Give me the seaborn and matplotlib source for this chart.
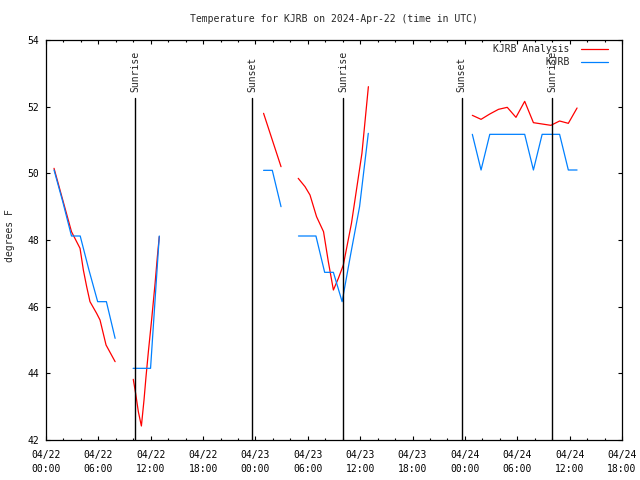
import numpy as np
import pandas as pd
import matplotlib
matplotlib.use("Agg")
import matplotlib.pyplot as plt
import matplotlib.dates as mdates
from matplotlib.lines import Line2D
import seaborn as sns

# data: hours after 2024-04-22 00:00 UTC, temperature in F
ana_hours = [0.92, 1.92, 2.92, 3.9, 4.28, 4.66, 5.04, 5.8, 6.19, 6.88, 7.92,
             10.0, 10.27, 10.58, 10.93, 11.23, 11.46, 11.73, 12.1, 12.5, 12.76, 12.98,
             24.93, 25.93, 26.93,
             28.9, 29.68, 30.25, 31.0, 31.8, 32.35, 32.93, 33.5, 34.07, 35.0, 36.2, 36.94,
             48.85, 49.85, 50.85, 51.85, 52.85, 53.85, 54.85, 55.85, 56.85, 57.85, 58.85, 59.85, 60.85]
ana_temp = [50.15, 49.2, 48.25, 47.75, 47.1, 46.6, 46.15, 45.8, 45.6, 44.85, 44.35,
            43.82, 43.4, 42.85, 42.42, 43.2, 43.9, 44.65, 45.6, 46.7, 47.5, 48.1,
            51.8, 51.0, 50.2,
            49.85, 49.6, 49.35, 48.7, 48.25, 47.35, 46.5, 46.85, 47.25, 48.5, 50.6, 52.6,
            51.74, 51.62, 51.78, 51.92, 51.98, 51.68, 52.16, 51.52, 51.48, 51.44, 51.57, 51.5, 51.96]

obs_hours = [0.92, 1.92, 2.92, 3.92, 4.92, 5.92, 6.92, 7.92,
             9.98, 10.98, 11.98, 12.98,
             24.93, 25.93, 26.93,
             28.93, 29.93, 30.93, 31.93, 32.93, 33.93, 34.93, 35.93, 36.93,
             48.85, 49.85, 50.85, 51.85, 52.85, 53.85, 54.85, 55.85, 56.85, 57.85, 58.85, 59.85, 60.85]
obs_temp = [50.1, 49.15, 48.12, 48.12, 47.1, 46.15, 46.15, 45.05,
            44.15, 44.15, 44.15, 48.12,
            50.09, 50.09, 49.0,
            48.12, 48.12, 48.12, 47.03, 47.03, 46.15, 47.6, 49.0, 51.2,
            51.17, 50.1, 51.17, 51.17, 51.17, 51.17, 51.17, 50.1, 51.17, 51.17, 51.17, 50.1, 50.1]

event_hours = [10.22, 23.64, 34.07, 47.63, 58.02]
event_names = ["Sunrise", "Sunset", "Sunrise", "Sunset", "Sunrise"]

base = pd.Timestamp("2024-04-22 00:00")


def make_frame(hours, temps):
    df = pd.DataFrame({"hours": hours, "temp": temps})
    df["time"] = base + pd.to_timedelta(df["hours"], unit="h")
    # break the line where data is missing
    df["seg"] = (df["hours"].diff() > 1.5).cumsum()
    return df


ana = make_frame(ana_hours, ana_temp)
obs = make_frame(obs_hours, obs_temp)

sns.set_style("ticks")
plt.rcParams["font.family"] = ["DejaVu Sans Mono"]
plt.rcParams["font.size"] = 7

fig = plt.figure(figsize=(6.4, 4.8), dpi=100)
ax = fig.add_axes([46 / 640, 40 / 480, 576 / 640, 400 / 480])

red = "#ff0000"
blue = "#0080ff"
sns.lineplot(data=ana, x="time", y="temp", units="seg", estimator=None,
             color=red, lw=0.9, ax=ax, legend=False)
sns.lineplot(data=obs, x="time", y="temp", units="seg", estimator=None,
             color=blue, lw=0.9, ax=ax, legend=False)

ax.set_ylim(42, 54)
ax.set_xlim(base, base + pd.Timedelta(hours=66))

for h, name in zip(event_hours, event_names):
    t = base + pd.Timedelta(hours=h)
    ax.axvline(t, ymin=0, ymax=0.855, color="black", lw=1.0)
    ax.text(t, 52.44, name, rotation=90, ha="center", va="bottom", fontsize=7)

ax.xaxis.set_major_locator(mdates.HourLocator(byhour=[0, 6, 12, 18]))
ax.xaxis.set_minor_locator(mdates.HourLocator(byhour=range(0, 24, 2)))
ax.xaxis.set_major_formatter(mdates.DateFormatter("%m/%d\n%H:%M"))
ax.set_yticks(np.arange(42, 55, 2))

ax.tick_params(which="both", direction="in", top=True, right=True, width=0.8,
               colors="black", labelsize=7)
ax.tick_params(which="major", length=3.2)
ax.tick_params(which="minor", length=1.7)
ax.tick_params(axis="x", pad=7)
ax.tick_params(axis="y", pad=5)
for lbl in ax.get_xticklabels():
    lbl.set_linespacing(1.5)

for s in ax.spines.values():
    s.set_color("black")
    s.set_linewidth(0.9)

ax.set_xlabel("")
ax.set_ylabel("")
fig.text(10 / 640, 1 - 236 / 480, "degrees F", rotation=90, ha="center", va="center", fontsize=7)
fig.text(334 / 640, 1 - 19 / 480, "Temperature for KJRB on 2024-Apr-22 (time in UTC)",
         ha="center", va="center", fontsize=7)

handles = [Line2D([], [], color=red, lw=0.9), Line2D([], [], color=blue, lw=0.9)]
ax.legend(handles, ["KJRB Analysis", "         KJRB"], loc="upper right",
          bbox_to_anchor=(0.976, 0.99), frameon=False, markerfirst=False,
          handlelength=2.8, handletextpad=1.2, labelspacing=0.35,
          borderpad=0, borderaxespad=0, fontsize=7)

fig.savefig("out.png", dpi=100)
